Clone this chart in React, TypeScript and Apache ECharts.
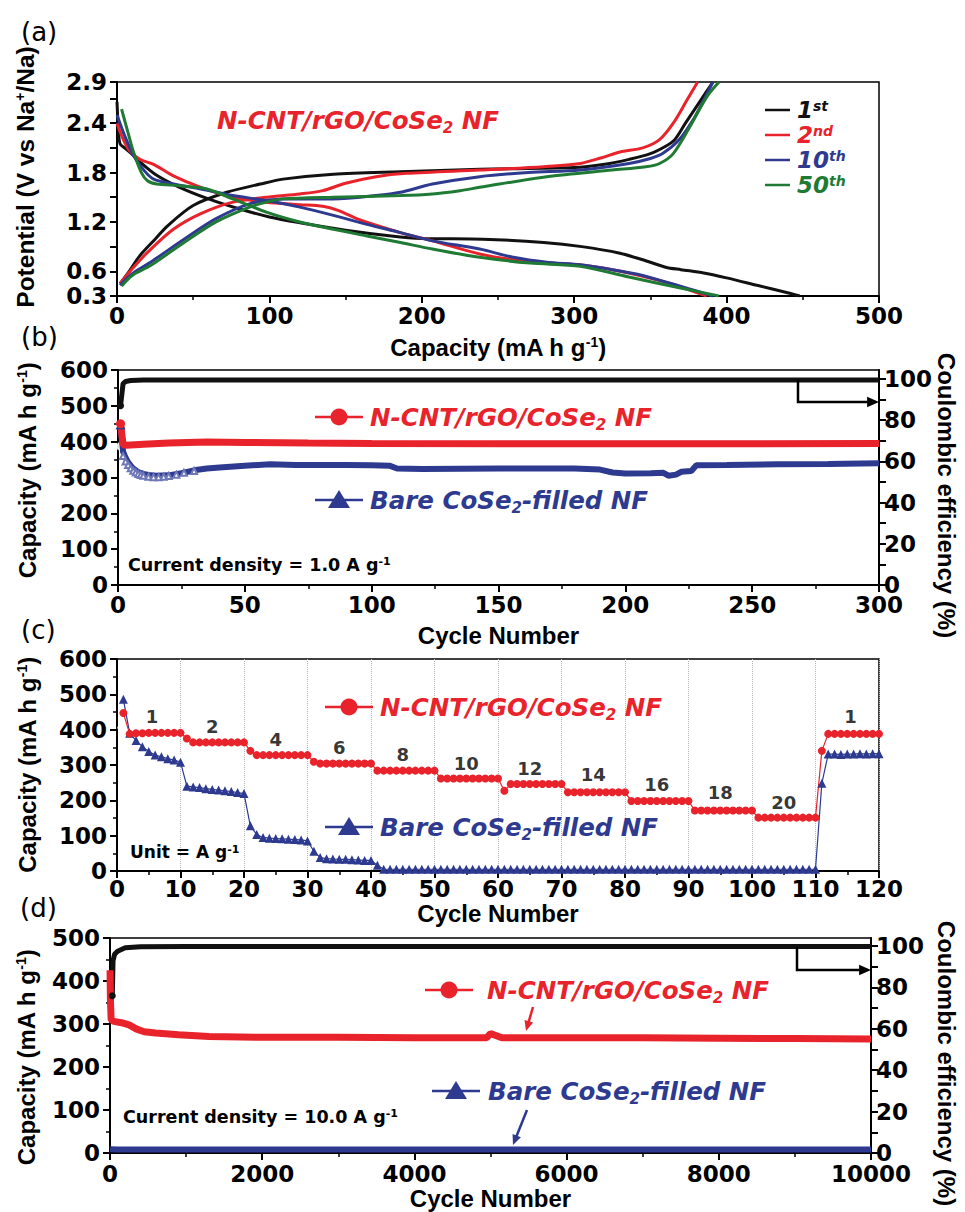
import React, { useEffect, useRef } from 'react';
import * as echarts from 'echarts';

const FONT = '"Liberation Sans", Arial, Helvetica, sans-serif';
const DJ = '"DejaVu Sans", "Liberation Sans", sans-serif';
const BLACK = '#111111';
const RED = '#e8232b';
const BLUE = '#2d3a8f';
const GREEN = '#1f7a33';

// ---------- (a) charge / discharge profiles: [capacity, potential] ----------
const dis1 = [[0,2.66],[1,2.3],[2,2.15],[5,2.1],[10,2.02],[15,1.93],[25,1.78],[40,1.63],[60,1.48],[80,1.36],[100,1.26],[120,1.19],[150,1.1],[180,1.03],[200,1.0],[240,0.99],[280,0.95],[305,0.9],[330,0.82],[345,0.74],[360,0.65],[370,0.62],[385,0.58],[400,0.52],[420,0.43],[440,0.34],[448,0.3]];
const chg1 = [[2,0.45],[8,0.6],[15,0.79],[25,0.99],[33,1.15],[50,1.4],[72,1.56],[94,1.66],[109,1.72],[142,1.78],[186,1.81],[238,1.84],[300,1.86],[320,1.9],[336,1.96],[350,2.03],[360,2.12],[366,2.2],[373,2.4],[382,2.65],[391,2.9]];
const dis2 = [[0,2.4],[3,2.25],[8,2.07],[15,1.96],[24,1.9],[37,1.76],[55,1.62],[76,1.5],[98,1.44],[120,1.41],[135,1.39],[145,1.34],[160,1.22],[186,1.07],[207,0.97],[238,0.81],[260,0.74],[282,0.7],[303,0.68],[325,0.62],[345,0.54],[365,0.44],[387,0.3]];
const chg2 = [[2,0.45],[10,0.63],[20,0.83],[37,1.11],[55,1.3],[76,1.44],[98,1.5],[120,1.54],[135,1.58],[150,1.67],[170,1.75],[190,1.79],[238,1.83],[280,1.87],[304,1.91],[318,1.98],[330,2.05],[345,2.1],[356,2.2],[365,2.4],[374,2.68],[381,2.9]];
const dis10 = [[0,2.5],[5,2.25],[11,2.0],[18,1.82],[24,1.72],[37,1.66],[55,1.6],[76,1.52],[98,1.46],[120,1.38],[142,1.28],[164,1.17],[186,1.07],[207,0.97],[238,0.87],[260,0.77],[282,0.71],[304,0.68],[325,0.62],[345,0.55],[360,0.47],[375,0.39],[391,0.3]];
const chg10 = [[2,0.43],[10,0.57],[22,0.71],[44,0.99],[65,1.24],[87,1.42],[109,1.48],[142,1.48],[170,1.52],[186,1.56],[207,1.66],[238,1.75],[270,1.8],[304,1.83],[336,1.91],[350,1.97],[358,2.03],[369,2.2],[378,2.44],[385,2.68],[391,2.9]];
const dis50 = [[3,2.57],[7,2.3],[11,2.04],[16,1.8],[20,1.7],[26,1.66],[41,1.64],[59,1.6],[76,1.48],[98,1.32],[120,1.2],[142,1.11],[164,1.03],[186,0.95],[207,0.87],[238,0.77],[271,0.7],[304,0.66],[336,0.53],[369,0.4],[395,0.3]];
const chg50 = [[3,0.42],[10,0.55],[22,0.67],[44,0.95],[65,1.2],[87,1.38],[100,1.45],[109,1.48],[142,1.5],[186,1.52],[207,1.54],[225,1.58],[238,1.62],[282,1.75],[325,1.83],[347,1.87],[356,1.91],[365,2.03],[376,2.36],[387,2.72],[395,2.9]];
const aYLabels = [0.3, 0.6, 1.2, 1.8, 2.4, 2.9];
const aYTicks = [0.3, 0.6, 0.9, 1.2, 1.5, 1.8, 2.1, 2.4, 2.7, 2.9];
const cycleNames = ['1st', '2nd', '10th', '50th'];

// ---------- (b) cycling at 1.0 A/g: [cycle, value] ----------
const bCE = [[1,87],[2,97.8],[3,98.8],[5,99.3],[10,99.5],[50,99.6],[100,99.6],[200,99.6],[300,99.6]];
const bRedDis = [[1,450],[2,392],[3,390],[5,391],[10,393],[20,396],[35,399],[50,398],[75,396],[100,395],[150,394],[200,394],[250,394],[300,395]];
const bRedChg = [[1,387],[2,389],[3,390]];
const bBlueDis = [[1,448],[2,372],[3,355],[4,342],[5,333],[6,325],[8,315],[10,310],[12,307],[15,305],[20,306],[25,312],[30,320],[35,325],[40,328],[50,333],[60,337],[70,335],[80,335],[90,335],[100,334],[107,333],[110,325],[120,324],[150,325],[180,325],[190,322],[195,314],[200,311],[210,312],[215,313],[217,305],[220,308],[222,316],[226,318],[228,334],[240,335],[260,337],[280,338],[300,340]];
const bBlueChg = [[2,360],[3,345],[4,335],[5,326],[6,319],[7,314],[8,310],[9,307],[10,305],[12,302],[14,301],[16,301],[18,302],[20,304],[23,308],[26,313],[30,318]];
const ceLabels = [0, 20, 40, 60, 80, 100];
const ceTicks = [0, 10, 20, 30, 40, 50, 60, 70, 80, 90, 100];

// ---------- (c) rate capability, one value per cycle 1..120 ----------
const cRedDis = [
  447,388,390,390,391,391,391,391,391,391,
  375,364,364,364,364,364,364,364,364,364,
  340,328,328,328,328,328,328,328,328,328,
  309,304,304,304,304,304,304,304,304,304,
  284,284,284,284,284,284,284,284,284,284,
  262,262,262,262,262,262,262,262,262,262,
  227,246,246,246,246,246,246,246,246,246,
  223,223,223,223,223,223,223,223,223,223,
  198,198,198,198,198,198,198,198,198,198,
  171,171,171,171,171,171,171,171,171,171,
  151,151,151,151,151,151,151,151,151,151,
  340,388,388,388,388,388,388,388,388,388,
];
const cBlueDis = [
  486,390,369,352,338,328,323,318,314,308,
  240,238,236,233,231,229,227,225,222,219,
  128,103,95,93,92,91,90,89,88,85,
  56,38,35,34,33,33,32,31,30,30,
  16,5,5,5,5,5,5,5,5,5,
  5,5,5,5,5,5,5,5,5,5,
  5,5,5,5,5,5,5,5,5,5,
  5,5,5,5,5,5,5,5,5,5,
  5,5,5,5,5,5,5,5,5,5,
  5,5,5,5,5,5,5,5,5,5,
  5,5,5,5,5,5,5,5,5,5,
  248,331,331,330,331,331,332,331,332,332,
];
const cRedChg = [[1,390],[11,368],[21,328],[31,305],[61,243],[111,383]];
const cBlueChg = [[1,420],[9,318],[10,313],[12,240],[21,110],[31,40],[111,235]];
const rateLabels = ['1','2','4','6','8','10','12','14','16','18','20','1'];
const rateLabelAt = [[5.5,436],[15,410],[25,373],[35,349],[45,331],[55,305],[65,291],[75,272],[85,246],[95,221],[105,193],[115.5,437]];

// ---------- (d) long cycling at 10 A/g ----------
const dCE = [[30,76],[40,93],[60,96],[100,97.5],[200,99.2],[400,99.7],[1000,99.8],[3000,99.8],[6000,99.8],[10000,99.8]];
const dRedDis = [[1,425],[5,360],[15,310],[50,306],[150,303],[250,298],[350,288],[450,282],[600,279],[900,275],[1300,271],[2000,269],[3000,269],[4000,268],[4950,268],[5000,278],[5060,274],[5150,268],[6000,268],[7000,268],[8000,267],[9000,266],[10000,265]];
const dBlueDis = [[1,9],[100,8],[2000,8],[5000,8],[8000,8],[10000,8]];

const byCycle = (arr: number[]) => arr.map((v, i) => [i + 1, v]);
const firstOnly = (sym: string) => (_v: any, p: any) => (p.dataIndex === 0 ? sym : 'none');

const labelStyle = { color: '#000', fontFamily: DJ, fontWeight: 'bold', fontSize: 23, lineHeight: 18 };
const nameStyle = {
  color: '#000', fontFamily: FONT, fontWeight: 'bold', fontSize: 24,
  rich: { sup: { fontFamily: FONT, fontWeight: 'bold', fontSize: 14, verticalAlign: 'top', color: '#000' } },
};
const nameWith = (extra: any) => ({ ...nameStyle, ...extra });

function axis(o: any) {
  const minor = o.minor !== false;
  const base: any = {
    type: 'value',
    axisLine: { show: true, onZero: false, lineStyle: { color: '#000', width: 2 } },
    axisTick: { show: true, inside: false, length: 7, lineStyle: { color: '#000', width: 2 } },
    minorTick: { show: minor, splitNumber: 2, length: 4, lineStyle: { color: '#000', width: 1.5 } },
    axisLabel: { ...labelStyle, margin: o.labelMargin ?? 8, formatter: (v: number) => String(v) },
    splitLine: { show: false },
    nameLocation: 'middle',
    nameTextStyle: nameStyle,
  };
  const r = { ...base, ...o };
  delete r.minor; delete r.labelMargin;
  if (o.labelCustom) { r.axisLabel = { ...r.axisLabel, customValues: o.labelCustom }; delete r.labelCustom; }
  if (o.tickCustom) { r.axisTick = { ...r.axisTick, customValues: o.tickCustom }; delete r.tickCustom; }
  if (o.labelFormatter) { r.axisLabel = { ...r.axisLabel, formatter: o.labelFormatter }; delete r.labelFormatter; }
  return r;
}

const txtStyle = (size: number, color: string, italic: boolean, weight = 'bold') => ({
  fontFamily: DJ, fontSize: size, fontWeight: weight, fontStyle: italic ? 'italic' : 'normal', fill: color,
});

function richText(x: number, y: number, text: string, size: number, color: string, italic: boolean, weight = 'bold') {
  const hasSub = text.indexOf('{sub|') >= 0;
  const small = Math.round(size * 0.62);
  return {
    type: 'text', x, y: hasSub ? y + size * 0.075 : y, z: 50,
    style: {
      text, align: 'left', verticalAlign: 'middle', ...txtStyle(size, color, italic, weight),
      rich: {
        m: hasSub ? { ...txtStyle(size, color, italic, weight), verticalAlign: 'top' } : txtStyle(size, color, italic, weight),
        sub: { ...txtStyle(small, color, italic, weight), lineHeight: size * 1.15, verticalAlign: 'bottom' },
        sup: { ...txtStyle(small, color, italic, weight), verticalAlign: 'top' },
        n: txtStyle(size, color, italic, weight),
        s: { ...txtStyle(Math.round(size * 0.62), color, italic, weight), verticalAlign: 'top' },
      },
    },
  };
}

function arrowHead(x: number, y: number, angle: number, color: string, size = 12) {
  const a1 = angle + Math.PI - 0.42, a2 = angle + Math.PI + 0.42;
  return {
    type: 'polygon', z: 50,
    shape: { points: [[x, y], [x + size * Math.cos(a1), y + size * Math.sin(a1)], [x + size * Math.cos(a2), y + size * Math.sin(a2)]] },
    style: { fill: color },
  };
}
function arrow(x1: number, y1: number, x2: number, y2: number, color: string) {
  const ang = Math.atan2(y2 - y1, x2 - x1);
  return [
    { type: 'line', z: 50, shape: { x1, y1, x2: x2 - 8 * Math.cos(ang), y2: y2 - 8 * Math.sin(ang) }, style: { stroke: color, lineWidth: 2.5 } },
    arrowHead(x2, y2, ang, color, 11),
  ];
}
function legendMark(x1: number, x2: number, y: number, color: string, kind: 'circle' | 'triangle') {
  const cx = (x1 + x2) / 2;
  const mark = kind === 'circle'
    ? { type: 'circle', z: 50, shape: { cx, cy: y, r: 8.5 }, style: { fill: color } }
    : { type: 'polygon', z: 50, shape: { points: [[cx, y - 10], [cx - 11, y + 8], [cx + 11, y + 8]] }, style: { fill: color } };
  return [{ type: 'line', z: 50, shape: { x1, y1: y, x2, y2: y }, style: { stroke: color, lineWidth: 2.5 } }, mark];
}

const redName = '{m|N-CNT/rGO/CoSe}{sub|2}{m| NF}';
const blueName = '{m|Bare CoSe}{sub|2}{m|-filled NF}';
const LEG = 24.5;

export default function App() {
  const ref = useRef<HTMLDivElement>(null);
  useEffect(() => {
    if (!ref.current) return;
    const chart = echarts.init(ref.current, null, { renderer: 'svg', width: 965, height: 1212 });
    const gridBase = {
      show: true, borderColor: '#000', borderWidth: 1.5, backgroundColor: 'transparent',
      containLabel: false, outerBoundsMode: 'none',
    };
    const lineA = (data: number[][], color: string) => ({
      type: 'line', xAxisIndex: 0, yAxisIndex: 0, data, smooth: 0.3, symbol: 'none',
      lineStyle: { color, width: 3 }, itemStyle: { color },
    });
    const legColors = [BLACK, RED, BLUE, GREEN];

    const graphics: any[] = [
      richText(21, 32, '(a)', 26, '#000', false, 'normal'),
      richText(21, 337, '(b)', 26, '#000', false, 'normal'),
      richText(21, 630, '(c)', 26, '#000', false, 'normal'),
      richText(20, 908, '(d)', 26, '#000', false, 'normal'),
      richText(217, 120, redName, LEG, RED, true),
      // (b) legend
      ...legendMark(315, 363, 417, RED, 'circle'),
      richText(370, 417, redName, LEG, RED, true),
      ...legendMark(315, 363, 500, BLUE, 'triangle'),
      richText(370, 500, blueName, LEG, BLUE, true),
      richText(128, 565, '{n|Current density = 1.0 A g}{s|-1}', 17.5, '#000', false),
      // (c) legend
      ...legendMark(325, 373, 707, RED, 'circle'),
      richText(380, 707, redName, LEG, RED, true),
      ...legendMark(325, 373, 827, BLUE, 'triangle'),
      richText(380, 827, blueName, LEG, BLUE, true),
      richText(130, 852, '{n|Unit = A g}{s|-1}', 17, '#000', false),
      // (d) legend
      ...legendMark(425, 473, 990, RED, 'circle'),
      richText(487, 990, redName, LEG, RED, true),
      ...legendMark(432, 480, 1091, BLUE, 'triangle'),
      richText(488, 1091, blueName, LEG, BLUE, true),
      richText(123, 1117, '{n|Current density = 10.0 A g}{s|-1}', 17.5, '#000', false),
      ...arrow(533, 1007, 526, 1031, RED),
      ...arrow(527, 1110, 513, 1145, BLUE),
      // CE arrows
      { type: 'polyline', z: 50, shape: { points: [[798, 380], [798, 402], [868, 402]] }, style: { stroke: '#000', lineWidth: 2.5, fill: 'none' } },
      arrowHead(879, 402, 0, '#000', 13),
      { type: 'polyline', z: 50, shape: { points: [[797, 947], [797, 970], [860, 970]] }, style: { stroke: '#000', lineWidth: 2.5, fill: 'none' } },
      arrowHead(871, 970, 0, '#000', 13),
    ];
    // (a) legend
    cycleNames.forEach((nm, i) => {
      const y = 110 + i * 25;
      graphics.push({ type: 'line', z: 50, shape: { x1: 765, y1: y, x2: 790, y2: y }, style: { stroke: legColors[i], lineWidth: 2.5 } });
      const num = nm.replace(/[a-z]+$/, '');
      const suf = nm.slice(num.length);
      graphics.push(richText(797, y, `{n|${num}}{sup|${suf}}`, 23, legColors[i], true));
    });

    const option: any = {
      animation: false,
      backgroundColor: '#fff',
      textStyle: { fontFamily: FONT },
      grid: [
        { ...gridBase, left: 117, top: 82, width: 762, height: 214 },
        { ...gridBase, left: 118, top: 370, width: 761, height: 215 },
        { ...gridBase, left: 117, top: 659, width: 762, height: 212 },
        { ...gridBase, left: 110, top: 938, width: 761, height: 215 },
      ],
      xAxis: [
        axis({ gridIndex: 0, min: 0, max: 500, interval: 100, name: 'Capacity (mA h g{sup|-1})', nameGap: 39, labelMargin: 10.5 }),
        axis({ gridIndex: 1, min: 0, max: 300, interval: 50, name: 'Cycle Number', nameGap: 38, labelMargin: 10.5 }),
        axis({
          gridIndex: 2, min: 0, max: 120, interval: 10, name: 'Cycle Number', nameGap: 30, labelMargin: 8.5,
          splitLine: { show: true, lineStyle: { color: '#b5b5b5', type: 'dotted', width: 1 } },
        }),
        axis({ gridIndex: 3, min: 0, max: 10000, interval: 2000, name: 'Cycle Number', nameGap: 33, labelMargin: 11.5 }),
      ],
      yAxis: [
        axis({
          gridIndex: 0, min: 0.3, max: 2.9, minor: false, labelCustom: aYLabels, tickCustom: aYTicks,
          labelFormatter: (v: number) => v.toFixed(1), name: 'Potential (V vs Na{sup|+}/Na)', nameGap: 79, labelMargin: 10,
          nameTextStyle: nameWith({ fontSize: 24.5, padding: [0, 0, 0, 24] }),
        }),
        axis({
          gridIndex: 1, min: 0, max: 600, interval: 100, name: 'Capacity (mA h g{sup|-1})', nameGap: 79, labelMargin: 10,
          nameTextStyle: nameWith({ padding: [0, 0, 0, 14] }),
        }),
        axis({
          gridIndex: 1, position: 'right', min: 0, max: 104.4, minor: false, labelCustom: ceLabels, tickCustom: ceTicks,
          name: 'Coulombic efficiency (%)', nameRotate: -90, nameGap: 55, nameMoveOverlap: false, labelMargin: 5,
          nameTextStyle: nameWith({ fontSize: 24, padding: [0, 0, 0, 36] }),
        }),
        axis({ gridIndex: 2, min: 0, max: 600, interval: 100, name: 'Capacity (mA h g{sup|-1})', nameGap: 78, labelMargin: 10 }),
        axis({
          gridIndex: 3, min: 0, max: 500, interval: 100, name: 'Capacity (mA h g{sup|-1})', nameGap: 72, labelMargin: 10,
          nameTextStyle: nameWith({ padding: [0, 24, 0, 0] }),
        }),
        axis({
          gridIndex: 3, position: 'right', min: 0, max: 103.9, minor: false, labelCustom: ceLabels, tickCustom: ceTicks,
          name: 'Coulombic efficiency (%)', nameRotate: -90, nameGap: 63, nameMoveOverlap: false, labelMargin: 5,
          nameTextStyle: nameWith({ fontSize: 24, padding: [0, 0, 0, 36] }),
        }),
      ],
      series: [
        // (a)
        lineA(dis1, BLACK), lineA(chg1, BLACK),
        lineA(dis2, RED), lineA(chg2, RED),
        lineA(dis10, BLUE), lineA(chg10, BLUE),
        lineA(dis50, GREEN), lineA(chg50, GREEN),
        // (b)
        {
          type: 'line', xAxisIndex: 1, yAxisIndex: 2, data: bCE, symbol: firstOnly('circle'), symbolSize: 7,
          lineStyle: { color: BLACK, width: 5 }, itemStyle: { color: BLACK },
        },
        {
          type: 'line', xAxisIndex: 1, yAxisIndex: 1, data: bBlueChg, symbol: 'emptyTriangle', symbolSize: 6,
          lineStyle: { color: '#6f78b8', width: 1.5 }, itemStyle: { color: '#6f78b8', borderColor: '#6f78b8' },
        },
        {
          type: 'line', xAxisIndex: 1, yAxisIndex: 1, data: bBlueDis, symbol: firstOnly('triangle'), symbolSize: 10,
          lineStyle: { color: BLUE, width: 6 }, itemStyle: { color: BLUE },
        },
        {
          type: 'line', xAxisIndex: 1, yAxisIndex: 1, data: bRedDis, symbol: firstOnly('circle'), symbolSize: 9,
          lineStyle: { color: RED, width: 7 }, itemStyle: { color: RED },
        },
        {
          type: 'scatter', xAxisIndex: 1, yAxisIndex: 1, data: bRedChg, symbol: 'emptyCircle', symbolSize: 7,
          itemStyle: { color: '#fff', borderColor: RED, borderWidth: 1 },
        },
        // (c)
        {
          type: 'line', xAxisIndex: 2, yAxisIndex: 3, data: byCycle(cBlueDis), symbol: 'triangle', symbolSize: 9,
          showAllSymbol: true, lineStyle: { color: BLUE, width: 1.2 }, itemStyle: { color: BLUE },
        },
        {
          type: 'scatter', xAxisIndex: 2, yAxisIndex: 3, data: cBlueChg, symbol: 'emptyTriangle', symbolSize: 10,
          itemStyle: { color: '#fff', borderColor: '#5a64a8', borderWidth: 1.2 },
        },
        {
          type: 'line', xAxisIndex: 2, yAxisIndex: 3, data: byCycle(cRedDis), symbol: 'circle', symbolSize: 8,
          showAllSymbol: true, lineStyle: { color: RED, width: 1.2 }, itemStyle: { color: RED },
        },
        {
          type: 'scatter', xAxisIndex: 2, yAxisIndex: 3, data: cRedChg, symbol: 'emptyCircle', symbolSize: 9,
          itemStyle: { color: '#fff', borderColor: '#e5676b', borderWidth: 1.2 },
        },
        {
          type: 'scatter', xAxisIndex: 2, yAxisIndex: 3, data: rateLabelAt, symbolSize: 1,
          itemStyle: { color: 'transparent' }, silent: true, z: 5,
          label: {
            show: true, position: 'inside', formatter: (p: any) => rateLabels[p.dataIndex],
            color: '#000', fontFamily: DJ, fontWeight: 'bold', fontSize: 18,
          },
        },
        // (d)
        {
          type: 'line', xAxisIndex: 3, yAxisIndex: 5, data: dCE, symbol: firstOnly('circle'), symbolSize: 7,
          lineStyle: { color: BLACK, width: 5 }, itemStyle: { color: BLACK },
        },
        {
          type: 'line', xAxisIndex: 3, yAxisIndex: 4, data: dBlueDis, symbol: 'none',
          lineStyle: { color: BLUE, width: 6 }, itemStyle: { color: BLUE },
        },
        {
          type: 'line', xAxisIndex: 3, yAxisIndex: 4, data: dRedDis, symbol: 'none',
          lineStyle: { color: RED, width: 7 }, itemStyle: { color: RED },
        },
      ],
      graphic: { elements: graphics },
    };
    chart.setOption(option);
    return () => chart.dispose();
  }, []);
  return <div ref={ref} style={{ position: 'absolute', left: 0, top: 0, width: 965, height: 1212 }} />;
}
